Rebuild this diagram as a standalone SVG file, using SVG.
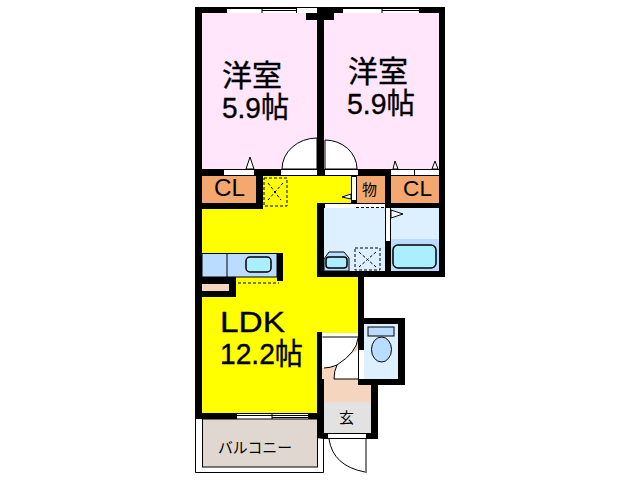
<svg xmlns="http://www.w3.org/2000/svg" width="640" height="480" viewBox="0 0 640 480">
<style>
.w{fill:#000}
.o{fill:#fff;stroke:#000;stroke-width:1}
.n{fill:#fff}
.l{fill:none;stroke:#000;stroke-width:1}
.f{fill:#b9dcff;stroke:#000;stroke-width:1}
.c{fill:#aef;stroke:#000;stroke-width:1.500}
.d{fill:none;stroke:#000;stroke-width:1;stroke-dasharray:3 2}
.s{font-family:"Liberation Sans","Noto Sans CJK JP",sans-serif;fill:#000;stroke:#000;stroke-width:.35}
.j{font-family:"Noto Sans CJK JP","Liberation Sans",sans-serif;fill:#000;stroke:#000;stroke-width:.35}
.t{font-family:"Noto Sans CJK JP","Liberation Sans",sans-serif;fill:#000}
.a{font-family:"Liberation Sans",sans-serif;fill:#000}
</style>
<rect width="640" height="480" fill="#fff"/>
<g id="fills">
<rect x="202" y="13" width="115" height="156" fill="#ffe6fa"/>
<rect x="324" y="13" width="115" height="156" fill="#ffe6fa"/>
<path d="M202 209H263V176H351V209H317V277H358V413H202Z" fill="#ff0"/>
<rect x="324" y="208" width="61" height="63" fill="#ddf0ff"/>
<rect x="391" y="208" width="48" height="31" fill="#ddf0ff"/>
<rect x="391" y="239" width="48" height="32" fill="#b9dcff"/>
<rect x="364" y="324" width="34" height="55" fill="#ddf0ff"/>
<path d="M322 335H358V385H371V403H322Z" fill="#f5d5bd"/>
<rect x="324" y="402" width="47" height="31" fill="#e2e2e2"/>
</g>
<g id="walls">
<rect class="w" x="195" y="7" width="250" height="6"/>
<rect class="w" x="195" y="7" width="7" height="412"/>
<rect class="w" x="439" y="7" width="6" height="270"/>
<rect class="w" x="317" y="7" width="7" height="169"/>
<rect class="w" x="306" y="13" width="28" height="7"/>
<rect class="w" x="202" y="169" width="237" height="7"/>
<rect class="w" x="202" y="203" width="61" height="6"/>
<rect class="w" x="256" y="176" width="7" height="33"/>
<rect class="w" x="317" y="203" width="7" height="74"/>
<rect class="w" x="317" y="203" width="122" height="5"/>
<rect class="w" x="317" y="271" width="128" height="6"/>
<rect class="w" x="385" y="176" width="6" height="95"/>
<rect class="w" x="358" y="277" width="6" height="108"/>
<rect class="w" x="358" y="318" width="47" height="6"/>
<rect class="w" x="398" y="318" width="7" height="67"/>
<rect class="w" x="358" y="379" width="47" height="6"/>
<rect class="w" x="371" y="385" width="7" height="54"/>
<rect class="w" x="317" y="332" width="5" height="107"/>
<rect class="w" x="317" y="379" width="7" height="60"/>
<rect class="w" x="195" y="413" width="129" height="6"/>
<rect class="w" x="317" y="433" width="61" height="6"/>
<rect class="w" x="351" y="176" width="6" height="27"/>
</g>
<g id="openings">
<rect class="n" x="227" y="8" width="90" height="5"/>
<rect class="n" x="343" y="8" width="76" height="5"/>
<path class="l" d="M227 8.500H296M262 10.500H296M296.500 8V13M262 8V13M343 8.500H419M382 10.500H419M419.500 8V13M382 8V13"/>
<rect class="n" x="237" y="414" width="71" height="5"/>
<path class="l" d="M237 415.500H308M272 417.500H308M308.500 414V419M272 414V419"/>
<rect class="n" x="224" y="170" width="30" height="5"/>
<rect class="n" x="281" y="170" width="36" height="5"/>
<rect class="n" x="325" y="170" width="33" height="5"/>
<rect class="n" x="391" y="170" width="33" height="5"/>
<rect class="n" x="415" y="170" width="24" height="5"/>
<rect x="414" y="170" width="1" height="5"/>
<rect class="n" x="352" y="177" width="4" height="23"/>
<rect class="n" x="325" y="204" width="60" height="4"/>
<path class="d" d="M356 207.500H385"/>
<rect class="n" x="386" y="208" width="4" height="33"/>
<rect class="n" x="322" y="333" width="36" height="4"/>
<rect class="n" x="359" y="350" width="5" height="29"/>
<rect class="n" x="328" y="434" width="38" height="4"/>
</g>
<g id="fixtures">
<path class="o" d="M282 169A35 31 0 0 1 317 138V169Z"/>
<path class="o" d="M325 140A32 29 0 0 1 357 169H325Z"/>
<path class="o" d="M246 169L250 157L254 169Z"/>
<path class="o" d="M393 169L395 161L398 169Z"/>
<path class="o" d="M432 169L435 161L438 169Z"/>
<path class="o" d="M342 197L351 194V199Z"/>
<path class="o" d="M391 210L403 214L391 218Z"/>
<rect class="d" x="264" y="178" width="23" height="28"/>
<path class="d" d="M268 183L281 200M283 183L268 200"/>
<circle cx="275" cy="192" r="1"/>
<rect class="d" x="355" y="248" width="25" height="22"/>
<path class="d" d="M359 252L376 267M376 252L359 267"/>
<path class="f" d="M324 271V259L329 252H344L349 258V271Z"/>
<rect x="326" y="257" width="21" height="11" rx="3" class="c"/>
<rect x="393" y="245" width="43" height="23" rx="5" class="c"/>
<rect x="202" y="253.500" width="75" height="23.500" fill="#b9dcff" stroke="#000"/>
<path class="l" d="M227 254V277"/>
<rect x="246" y="257" width="25" height="15" rx="4" class="c"/>
<rect class="w" x="277" y="253" width="6" height="28"/>
<rect class="w" x="202" y="277" width="34" height="20"/>
<rect x="202" y="284" width="27" height="7" fill="#f5d5bd"/>
<path class="d" d="M238 283H279"/>
<rect x="368" y="327" width="26" height="9" fill="#b9dcff" stroke="#000"/>
<ellipse cx="381.500" cy="349.500" rx="10" ry="12.500" fill="#b9dcff" stroke="#000"/>
<path class="n" d="M322 337H358V338Q357 352 337 365Q330 368 324 368H322Z"/>
<path class="n" d="M337 365L354 352L358 350V379H334Q334 371 337 365Z"/>
<path class="l" d="M322.500 337H358M358 338Q357 352 337 365Q330 368 324 368M337 365Q334 371 334 379H358"/>
<path d="M195.500 419V472.500H323.500V439" fill="#fff" stroke="#000"/>
<rect x="202.500" y="419" width="115" height="48" fill="#e0d8d0" stroke="#000"/>
<path class="l" d="M329 439Q333 466 365 472M366 439V473"/>
</g>
<g id="cl1"><rect x="202" y="176" width="54" height="27" fill="#f4a870"/><text class="a" x="214" y="196" font-size="23" textLength="31" lengthAdjust="spacingAndGlyphs">CL</text></g>
<g id="cl2"><rect x="391" y="176" width="48" height="27" fill="#f4a870"/><text class="a" x="403" y="196" font-size="22" textLength="29" lengthAdjust="spacingAndGlyphs">CL</text></g>
<g id="mono"><rect x="357" y="176" width="28" height="27" fill="#f4a870"/><text class="t" x="369.500" y="195" font-size="15" text-anchor="middle">物</text></g>
<g id="room1"><text class="j" x="222" y="86" font-size="30" textLength="60" lengthAdjust="spacingAndGlyphs">洋室</text><text class="s" x="222" y="118" font-size="29" textLength="67" lengthAdjust="spacingAndGlyphs">5.9帖</text></g>
<g id="room2"><text class="j" x="348" y="82" font-size="30" textLength="60" lengthAdjust="spacingAndGlyphs">洋室</text><text class="s" x="347" y="114" font-size="29" textLength="68" lengthAdjust="spacingAndGlyphs">5.9帖</text></g>
<g id="ldk"><text class="s" x="220" y="332" font-size="30" textLength="65" lengthAdjust="spacingAndGlyphs">LDK</text><text class="s" x="220" y="364" font-size="30" textLength="83" lengthAdjust="spacingAndGlyphs">12.2帖</text></g>
<g id="genkan"><text class="t" x="346.500" y="423" font-size="15" text-anchor="middle">玄</text></g>
<g id="balcony"><text class="t" x="255" y="453" font-size="15" text-anchor="middle" textLength="74" lengthAdjust="spacingAndGlyphs">バルコニー</text></g>
</svg>
